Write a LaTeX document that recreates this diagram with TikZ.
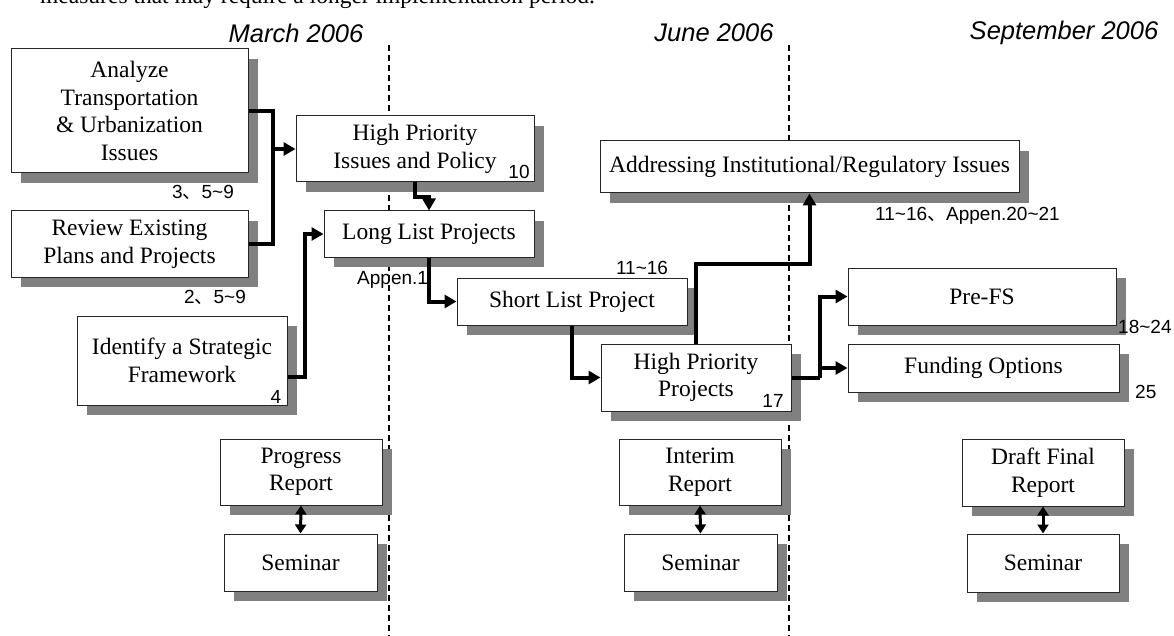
\documentclass[tikz,border=0pt]{standalone}
\usepackage{fontspec}
\setmainfont{Liberation Serif}
\newfontfamily\labfont{Liberation Sans}
\newfontfamily\cjkfont{Noto Sans CJK SC}
\usetikzlibrary{arrows.meta,shadows}
\newcommand\ideocomma{{\cjkfont 、}}
\definecolor{shadowgray}{HTML}{808080}
\tikzset{
  box/.style={draw=black!85, line width=1pt, fill=white, inner sep=0pt, align=center,
    font=\fontsize{23.5}{27.5}\selectfont,
    drop shadow={shadow xshift=10pt, shadow yshift=-10pt, fill=shadowgray, opacity=1}},
  conn/.style={line width=4pt, line join=miter, -{Triangle[length=12pt,width=13pt]}},
  plainconn/.style={line width=4pt, line join=miter},
  dbl/.style={line width=3pt, {Triangle[length=9pt,width=11pt]}-{Triangle[length=9pt,width=11pt]}},
  lab/.style={font=\labfont\fontsize{19}{22}\selectfont, inner sep=0pt},
  hdr/.style={font=\labfont\itshape\fontsize{25.5}{30}\selectfont, inner sep=0pt},
  milestone/.style={line width=1.8pt, dash pattern=on 6pt off 4pt}
}
\begin{document}
\begin{tikzpicture}[x=1pt, y=-1pt]
\useasboundingbox (0,0) rectangle (1174,636);

% tail of the preceding paragraph
\node[anchor=base west, inner sep=0pt, font=\fontsize{23.5}{27.5}\selectfont] (prev) at (40,4)
  {measures that may require a longer implementation period.};

% milestone dividers
\coordinate (m1top) at (389,45);
\coordinate (m1bot) at (389,636);
\coordinate (m2top) at (789,45);
\coordinate (m2bot) at (789,636);
\draw[milestone] (m1top) -- (m1bot);
\draw[milestone] (m2top) -- (m2bot);

% milestone headings
\node[hdr] (h1) at (296,33) {March 2006};
\node[hdr] (h2) at (714,33) {June 2006};
\node[hdr] (h3) at (1064,33) {September 2006};

% work-flow boxes
\node[box, minimum width=237pt, minimum height=124pt] (ana) at (129.5,111)
  {Analyze\\Transportation\\\& Urbanization\\Issues};
\node[box, minimum width=237pt, minimum height=66pt] (rev) at (129.5,244)
  {Review Existing\\Plans and Projects};
\node[box, minimum width=210pt, minimum height=89pt] (idf) at (182,360.5)
  {Identify a Strategic\\Framework};
\node[box, minimum width=238pt, minimum height=66pt] (hpi) at (415,149)
  {High Priority\\Issues and Policy};
\node[box, minimum width=210pt, minimum height=46pt] (llp) at (429,234)
  {Long List Projects};
\node[box, minimum width=230pt, minimum height=47pt] (slp) at (572,301.5)
  {Short List Project};
\node[box, minimum width=190pt, minimum height=67pt] (hpp) at (696,377.5)
  {High Priority\\Projects};
\node[box, minimum width=419pt, minimum height=52pt] (adr) at (809.5,167)
  {Addressing Institutional/Regulatory Issues};
\node[box, minimum width=268pt, minimum height=57pt] (pfs) at (982,296.5)
  {Pre-FS};
\node[box, minimum width=271pt, minimum height=48pt] (fund) at (983.5,368)
  {Funding Options};

% reports and seminars
\node[box, minimum width=162pt, minimum height=66pt] (prog) at (301,472)
  {Progress\\Report};
\node[box, minimum width=153pt, minimum height=57pt] (sem1) at (300.5,562.5)
  {Seminar};
\node[box, minimum width=162pt, minimum height=66pt] (intr) at (700,472)
  {Interim\\Report};
\node[box, minimum width=153pt, minimum height=57pt] (sem2) at (700.5,562.5)
  {Seminar};
\node[box, minimum width=162pt, minimum height=67pt] (dft) at (1043,472.5)
  {Draft Final\\Report};
\node[box, minimum width=152pt, minimum height=58pt] (sem3) at (1043,563)
  {Seminar};

% chapter references
\node[lab] (r1) at (203,192) {3\ideocomma 5\textasciitilde 9};
\node[lab] (r2) at (215,297) {2\ideocomma 5\textasciitilde 9};
\node[lab] (r3) at (276,397) {4};
\node[lab] (r4) at (519,172) {10};
\node[lab, anchor=west] (r5) at (357,280) {Appen.1};
\node[lab] (r6) at (642,268) {11\textasciitilde 16};
\node[lab] (r7) at (773,401) {17};
\node[lab, anchor=west] (r8) at (875,216) {11\textasciitilde 16\ideocomma Appen.20\textasciitilde 21};
\node[lab, anchor=west] (r9) at (1118,327) {18\textasciitilde 24};
\node[lab, anchor=west] (r10) at (1135,392) {25};

% flow connectors
\coordinate (j1) at (273,149);
\draw[conn] (ana.east) -| (j1) -- (hpi.west);
\draw[plainconn] (rev.east) -| (j1);
\draw[conn] (hpi.south) -- ++(0,15) -| (llp.north);
\draw[conn] ([yshift=-16pt]idf.east) -| ([xshift=-19pt]llp.west) -- (llp.west);
\draw[conn] (llp.south) |- (slp.west);
\draw[conn] (slp.south) |- (hpp.west);
\draw[conn] (hpp.north) |- ([yshift=-70pt]adr.south) -- (adr.south);
\coordinate (j3) at (820,377.5);
\draw[plainconn] (hpp.east) -- (j3);
\draw[conn] (j3) |- (pfs.west);
\draw[conn] (j3) |- (fund.west);

% report / seminar links
\draw[dbl] (prog.south) -- (sem1.north);
\draw[dbl] (intr.south) -- (sem2.north);
\draw[dbl] (dft.south) -- (sem3.north);
\end{tikzpicture}
\end{document}
